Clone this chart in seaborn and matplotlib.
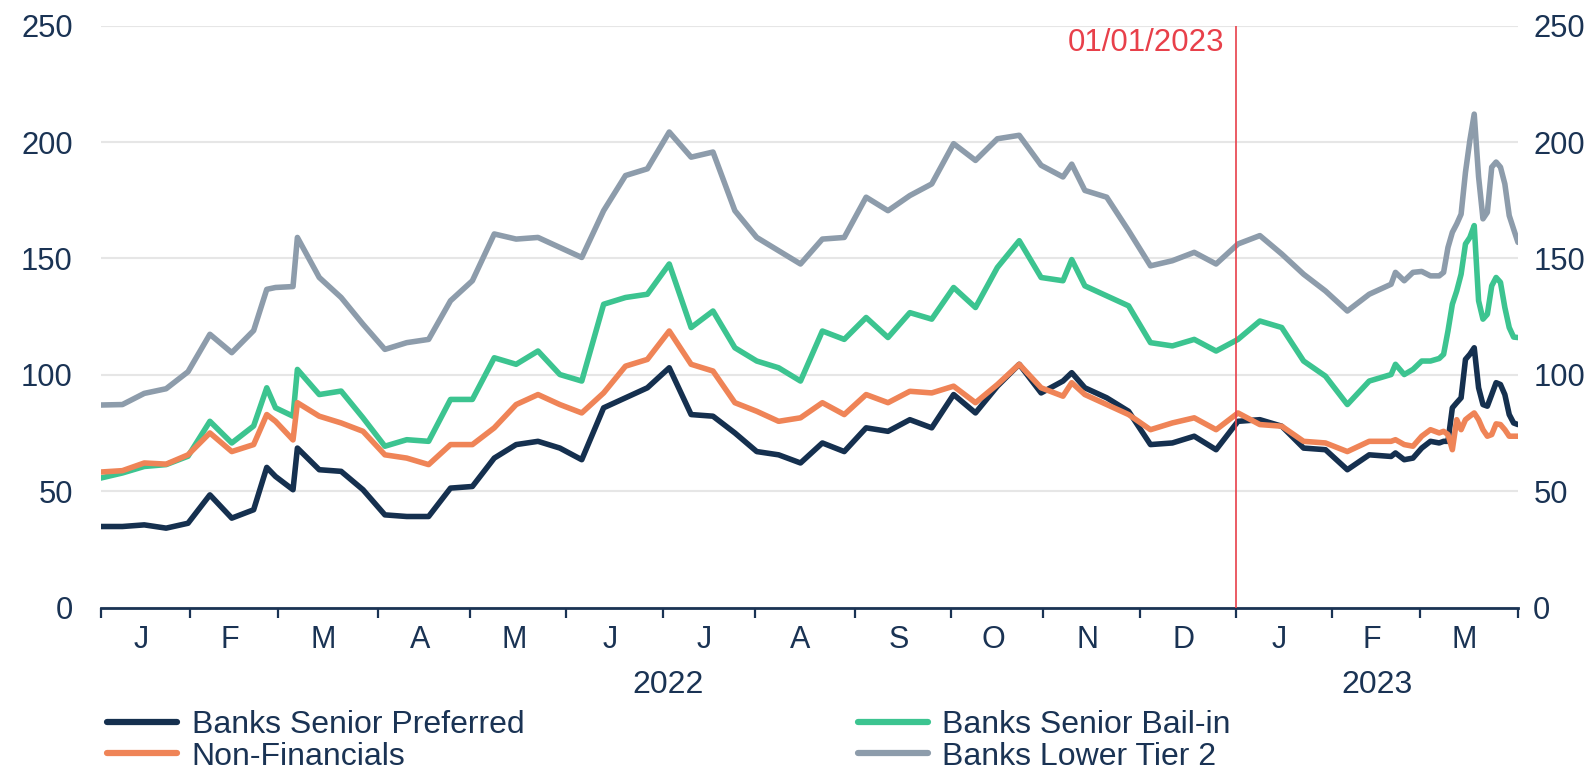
import numpy as np
import pandas as pd
import matplotlib.pyplot as plt
import matplotlib.transforms as mtransforms
from matplotlib.lines import Line2D
import seaborn as sns

# eixo x em dias úteis (jan/2022 - mar/2023)
dias = pd.bdate_range("2022-01-03", "2023-03-31")

# índices das observações: semanal (+ alguns picos), depois diário em março/2023
obs_idx = ([0, 5, 10, 15, 20, 25, 30, 35, 38, 40, 44]
           + list(range(45, 221, 5)) + [222]
           + list(range(225, 296, 5))
           + [296, 298, 300, 302, 304, 306] + list(range(307, 325)))

senior_pref = [34.8, 34.8, 35.5, 34.1, 36.2, 48.4, 38.4, 42.0, 60.2, 56.3, 50.6,
               68.5, 59.2, 58.5, 50.6, 39.8, 39.1, 39.1, 51.3, 52.0, 64.2, 70.0,
               71.4, 68.5, 63.5, 85.8, 90.1, 94.4, 103.0, 82.9, 82.2, 75.0,
               67.0, 65.6, 62.1, 70.7, 67.0, 77.2, 75.7, 80.7, 77.2, 91.5,
               83.6, 95.1, 104.5, 92.2, 97.3, 100.9,
               94.4, 90.1, 84.3, 70.0, 70.7, 73.6, 67.8, 80.0, 80.7, 77.9,
               68.5, 67.8, 59.2, 65.6, 64.9,
               66.4, 63.5, 64.2, 68.5, 71.4, 70.7, 71.4, 71.4, 85.8, 88.0,
               90.1, 106.6, 108.8, 111.6, 94.4, 87.2, 86.5, 91.5, 96.6, 95.8,
               91.5, 82.9, 79.3, 78.6]

non_fin = [58.2, 58.8, 62.1, 61.6, 65.6, 75.0, 67.0, 70.0, 82.9, 80.0, 72.0,
           88.0, 82.2, 79.3, 75.7, 65.6, 64.2, 61.4, 70.0, 70.0, 77.2, 87.2,
           91.5, 87.2, 83.6, 92.2, 103.7, 106.6, 118.8, 104.5, 101.6, 88.0,
           84.3, 80.0, 81.5, 88.0, 82.9, 91.5, 88.0, 92.9, 92.2, 95.1,
           88.0, 95.8, 104.5, 94.4, 90.8, 96.6,
           91.5, 87.2, 82.9, 76.4, 79.3, 81.5, 76.4, 83.6, 78.6, 77.9,
           71.4, 70.7, 67.0, 71.4, 71.4,
           72.1, 70.0, 69.3, 73.6, 76.4, 75.0, 75.7, 74.3, 67.8, 80.7,
           76.4, 80.7, 82.2, 83.6, 80.7, 76.4, 73.6, 74.3, 78.9, 78.6,
           76.4, 73.6, 73.6, 73.6]

bail_in = [55.6, 57.8, 60.6, 61.4, 65.0, 80.0, 70.7, 78.0, 94.4, 85.8, 82.2,
           102.3, 91.5, 93.0, 81.5, 69.3, 72.1, 71.4, 89.4, 89.4, 107.3, 104.5,
           110.2, 100.1, 97.3, 130.3, 133.2, 134.6, 147.6, 120.3, 127.4, 111.6,
           105.9, 103.0, 97.3, 118.8, 115.2, 124.6, 116.0, 126.7, 123.9, 137.5,
           128.9, 146.1, 157.6, 141.8, 140.4, 149.5,
           138.2, 133.9, 129.6, 113.8, 112.4, 115.2, 110.2, 115.2, 123.1, 120.3,
           105.9, 99.4, 87.2, 97.3, 100.1,
           104.5, 100.1, 102.3, 105.9, 105.9, 107.0, 108.8, 118.8, 130.3, 136.0,
           143.2, 156.2, 159.0, 164.1, 131.8, 123.9, 126.0, 138.2, 141.8, 139.7,
           128.9, 120.3, 116.2, 116.0]

lower_t2 = [87.0, 87.2, 92.0, 94.0, 101.3, 117.4, 109.5, 119.0, 136.7, 137.5, 137.9,
            159.0, 141.8, 133.2, 121.7, 110.9, 113.8, 115.2, 131.8, 140.4, 160.5, 158.3,
            159.0, 154.7, 150.4, 170.5, 185.6, 188.5, 204.3, 193.5, 195.7, 170.5,
            159.0, 153.3, 147.6, 158.3, 159.0, 176.3, 170.5, 177.0, 182.0, 199.3,
            192.1, 201.4, 202.9, 190.0, 185.0, 190.5,
            179.2, 176.3, 161.9, 146.8, 149.0, 152.6, 147.6, 156.2, 159.8, 151.9,
            143.2, 136.0, 127.4, 134.6, 138.9,
            144.0, 140.4, 144.0, 144.4, 142.5, 142.5, 144.0, 154.7, 161.2, 164.8,
            169.0, 187.0, 200.7, 212.0, 185.0, 167.0, 169.8, 189.2, 191.4, 189.2,
            182.0, 168.4, 162.6, 156.9]

nomes = ["Banks Senior Preferred", "Non-Financials", "Banks Senior Bail-in", "Banks Lower Tier 2"]
cores = {"Banks Senior Preferred": "#15304f",
         "Non-Financials": "#ef8457",
         "Banks Senior Bail-in": "#3cc490",
         "Banks Lower Tier 2": "#8d9cab"}
ordem_desenho = ["Banks Lower Tier 2", "Banks Senior Bail-in", "Banks Senior Preferred", "Non-Financials"]

TXT = "#1a3354"
VERMELHO = "#e8404a"

series = dict(zip(nomes, [senior_pref, non_fin, bail_in, lower_t2]))
df = pd.concat([pd.DataFrame({"pos": obs_idx, "data": dias[obs_idx], "valor": v, "serie": k})
                for k, v in series.items()], ignore_index=True)

sns.set_style("white")
plt.rcParams["font.family"] = ["Liberation Sans", "DejaVu Sans"]

fig = plt.figure(figsize=(15.93, 7.73), dpi=100)
ax = fig.add_axes([0.0631, 0.2141, 0.8898, 0.7527])

sns.lineplot(data=df, x="pos", y="valor", hue="serie", hue_order=ordem_desenho,
             palette=cores, linewidth=4.0, estimator=None, sort=False, ax=ax)
ax.get_legend().remove()

# limites dos meses (dias úteis)
meses = pd.period_range("2022-01", "2023-03", freq="M")
limites = []
for m in meses:
    primeiro = int(np.searchsorted(dias, m.start_time))
    limites.append(max(primeiro - 0.5, 0))
limites.append(len(dias) - 1)

ax.set_xlim(0, len(dias) - 1)
ax.set_ylim(0, 250)
ax.set_yticks(range(0, 251, 50))
ax.set_xticks(limites)
ax.set_xticklabels([])
ax.set_xlabel("")
ax.set_ylabel("")
ax.grid(axis="y", color="#e6e6e6", linewidth=1.5)
ax.grid(axis="x", visible=False)
ax.set_axisbelow(True)
for lado in ["top", "right", "left"]:
    ax.spines[lado].set_visible(False)
ax.spines["bottom"].set_color(TXT)
ax.spines["bottom"].set_linewidth(2)
ax.tick_params(axis="x", direction="out", length=7.5, width=1.6, color=TXT, bottom=True)
ax.tick_params(axis="y", length=0, pad=20, labelsize=22.3, labelcolor=TXT)

ax2 = ax.twinx()
ax2.set_ylim(0, 250)
ax2.set_yticks(range(0, 251, 50))
for lado in ["top", "right", "left", "bottom"]:
    ax2.spines[lado].set_visible(False)
ax2.tick_params(axis="y", length=0, pad=11, labelsize=22.3, labelcolor=TXT)
ax2.grid(False)

# letras dos meses e anos
trans = mtransforms.blended_transform_factory(ax.transData, ax.transAxes)
for i, m in enumerate(meses):
    meio = (limites[i] + limites[i + 1]) / 2 - 1
    ax.text(meio, -0.055, m.strftime("%b")[0], transform=trans, ha="center", va="center",
            fontsize=22, color=TXT)
ini_2023 = limites[12]
ax.text((limites[0] + ini_2023) / 2, -0.133, "2022", transform=trans, ha="center", va="center",
        fontsize=23, color=TXT)
ax.text((ini_2023 + limites[-1]) / 2, -0.133, "2023", transform=trans, ha="center", va="center",
        fontsize=23, color=TXT)

# linha de referência 01/01/2023
ax.axvline(ini_2023, color=VERMELHO, linewidth=1.2, zorder=5)
rot = mtransforms.offset_copy(trans, fig=fig, x=-12, y=-2, units="dots")
ax.text(ini_2023, 1.0, "01/01/2023", transform=rot, ha="right", va="top",
        fontsize=22.5, color=VERMELHO)


# legenda em duas colunas
def handle(n):
    return Line2D([], [], color=cores[n], linewidth=4.5)


for nomes_col, x0 in [(nomes[:2], 107), (nomes[2:], 857.6)]:
    fig.legend([handle(n) for n in nomes_col], nomes_col, loc="upper left",
               bbox_to_anchor=(x0 / 1593, 1 - 710 / 773), frameon=False,
               fontsize=23, labelcolor=TXT, handlelength=2.2, handletextpad=0.45,
               labelspacing=0.05, borderpad=0, borderaxespad=0)

fig.savefig("out.png", dpi=100)
